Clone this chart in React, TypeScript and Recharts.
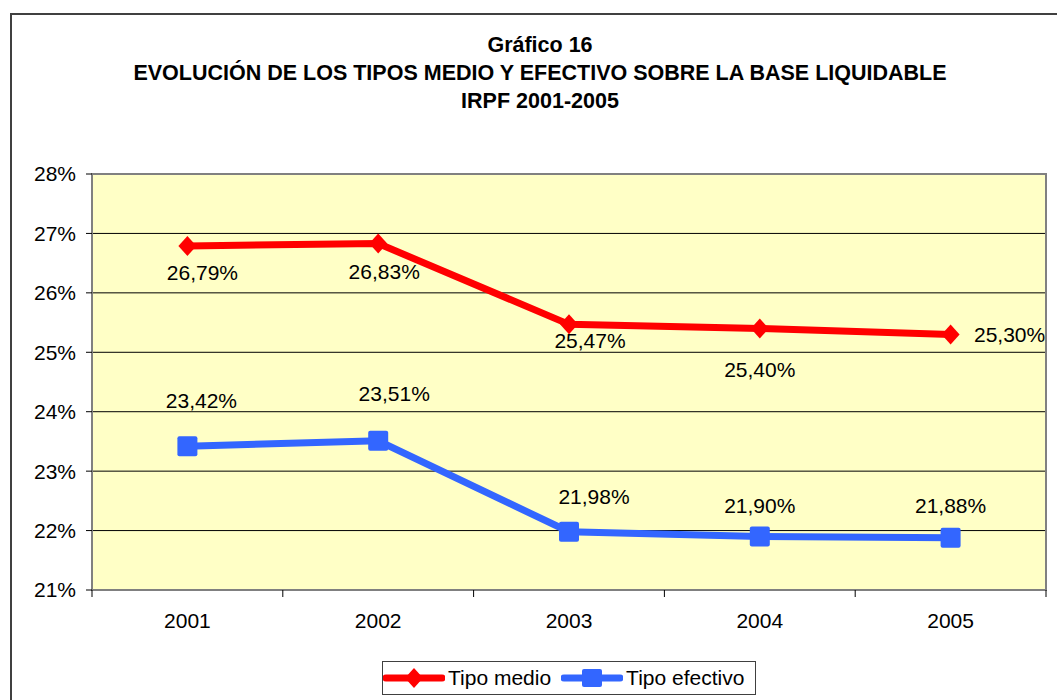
import React from 'react';
import {
	LineChart,
	CartesianGrid,
	XAxis,
	YAxis,
	Line,
	LabelList,
	ReferenceArea,
} from 'recharts';

const years = ['2001', '2002', '2003', '2004', '2005'];
const tipoMedio = [26.79, 26.83, 25.47, 25.4, 25.3];
const tipoEfectivo = [23.42, 23.51, 21.98, 21.9, 21.88];
const yTicks = [21, 22, 23, 24, 25, 26, 27, 28];
const seriesNames = ['Tipo medio', 'Tipo efectivo'];
const titleLines = [
	'Gráfico 16',
	'EVOLUCIÓN DE LOS TIPOS MEDIO Y EFECTIVO SOBRE LA BASE LIQUIDABLE',
	'IRPF 2001-2005',
];

// where Excel left the data labels, relative to the point
const medioLabelShift = [
	[15, 27],
	[6, 28],
	[21, 16],
	[0, 41],
	[59, 0],
];
const efectivoLabelShift = [
	[14, -46],
	[16, -47],
	[25, -35],
	[0, -31],
	[0, -32],
];

const RED = '#FF0000';
const BLUE = '#3366FF';
const FONT = '"Liberation Sans", Arial, sans-serif';
const FS = 21;

const data = years.map((year, i) => ({
	year,
	medio: tipoMedio[i],
	efectivo: tipoEfectivo[i],
}));

const fmt = (v: number) => v.toFixed(2).replace('.', ',') + '%';

const Diamond = (props: any) => {
	const { cx, cy } = props;
	if (cx == null || cy == null) return null;
	return (
		<path
			d={`M${cx},${cy - 10} L${cx + 9},${cy} L${cx},${cy + 10} L${cx - 9},${cy} Z`}
			fill={RED}
		/>
	);
};

const Square = (props: any) => {
	const { cx, cy } = props;
	if (cx == null || cy == null) return null;
	return <rect x={cx - 10} y={cy - 10} width={20} height={20} rx={2} fill={BLUE} />;
};

const makeLabel = (shift: number[][]) => (props: any) => {
	const { x, y, index, value } = props;
	const [dx, dy] = shift[index] || [0, 0];
	return (
		<text
			x={x + dx}
			y={y + dy}
			textAnchor='middle'
			dominantBaseline='central'
			fontSize={FS}
			fontFamily={FONT}
			fill='#000'
		>
			{fmt(value)}
		</text>
	);
};

const YearTick = (props: any) => {
	const { x, y, payload, index } = props;
	const half = payload.offset || 0;
	return (
		<g>
			<line x1={x - half} x2={x - half} y1={y} y2={y + 7} stroke='#000' />
			{index === years.length - 1 && (
				<line x1={x + half} x2={x + half} y1={y} y2={y + 7} stroke='#000' />
			)}
			<text
				x={x}
				y={y + 30}
				textAnchor='middle'
				dominantBaseline='central'
				fontSize={FS}
				fontFamily={FONT}
				fill='#000'
			>
				{payload.value}
			</text>
		</g>
	);
};

const LegendIcon = ({ color, square }: { color: string; square?: boolean }) => (
	<svg width={62} height={20} style={{ display: 'block' }}>
		<line x1={3} x2={59} y1={10} y2={10} stroke={color} strokeWidth={7} strokeLinecap='round' />
		{square ? (
			<rect x={21} y={1} width={20} height={18} rx={2} fill={color} />
		) : (
			<path d='M31,0 L40,10 L31,20 L22,10 Z' fill={color} />
		)}
	</svg>
);

export default function App() {
	return (
		<div
			style={{
				position: 'fixed',
				left: 0,
				top: 0,
				width: 1057,
				height: 700,
				overflow: 'hidden',
				background: '#fff',
				fontFamily: FONT,
			}}
		>
			<div
				style={{
					position: 'absolute',
					left: 10,
					top: 13,
					width: 1200,
					height: 900,
					border: '2px solid #404040',
				}}
			/>
			<div
				style={{
					position: 'absolute',
					left: 40,
					top: 31,
					width: 1000,
					textAlign: 'center',
					fontWeight: 'bold',
					fontSize: 21.5,
					lineHeight: '28px',
					color: '#000',
				}}
			>
				{titleLines.map((t) => (
					<div key={t}>{t}</div>
				))}
			</div>
			<div style={{ position: 'absolute', left: 0, top: 0 }}>
				<LineChart
					width={1057}
					height={700}
					data={data}
					margin={{ top: 174, right: 11, bottom: 80, left: 32 }}
				>
					<CartesianGrid vertical={false} stroke='#000' fill='#FFFFC6' fillOpacity={1} />
					<XAxis
						dataKey='year'
						scale='band'
						height={30}
						axisLine={false}
						tickLine={false}
						tickSize={0}
						tickMargin={0}
						tick={<YearTick />}
						interval={0}
					/>
					<YAxis
						width={60}
						domain={[21, 28]}
						ticks={yTicks}
						axisLine={false}
						tickLine={{ stroke: '#000' }}
						tickSize={6}
						tickMargin={10}
						tickFormatter={(v) => v + '%'}
						tick={{ fill: '#000', fontSize: FS, fontFamily: FONT }}
					/>
					<ReferenceArea y1={21} y2={28} fill='none' stroke='#808080' strokeWidth={2} />
					<Line
						dataKey='medio'
						name={seriesNames[0]}
						stroke={RED}
						strokeWidth={7}
						dot={<Diamond />}
						activeDot={false}
						isAnimationActive={false}
					>
						<LabelList dataKey='medio' content={makeLabel(medioLabelShift)} />
					</Line>
					<Line
						dataKey='efectivo'
						name={seriesNames[1]}
						stroke={BLUE}
						strokeWidth={7}
						dot={<Square />}
						activeDot={false}
						isAnimationActive={false}
					>
						<LabelList dataKey='efectivo' content={makeLabel(efectivoLabelShift)} />
					</Line>
				</LineChart>
			</div>
			<div
				style={{
					position: 'absolute',
					left: 382,
					top: 661,
					width: 374,
					height: 34,
					border: '1px solid #404040',
					boxSizing: 'border-box',
					display: 'flex',
					alignItems: 'center',
					fontSize: FS,
					color: '#000',
				}}
			>
				<LegendIcon color={RED} />
				<span style={{ marginLeft: 3, marginRight: 10 }}>{seriesNames[0]}</span>
				<LegendIcon color={BLUE} square />
				<span style={{ marginLeft: 3 }}>{seriesNames[1]}</span>
			</div>
		</div>
	);
}
